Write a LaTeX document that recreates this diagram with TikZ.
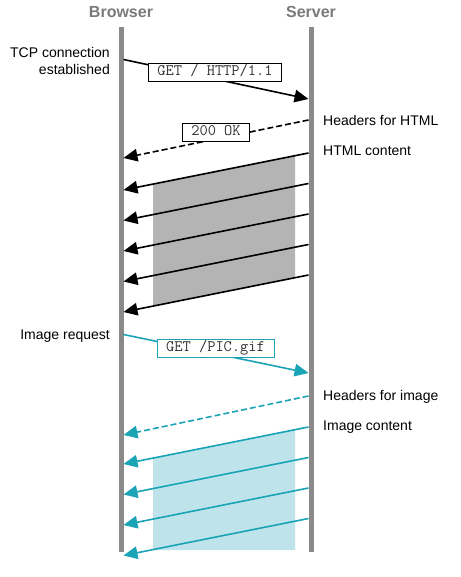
\documentclass[tikz,border=0pt]{standalone}
\usepackage{fontspec}
\setmainfont{Liberation Sans}
\usetikzlibrary{arrows.meta,calc}
\definecolor{lifegray}{HTML}{8A8A8A}
\definecolor{titlegray}{HTML}{7A7A7A}
\definecolor{teal}{HTML}{1BA3B6}
\definecolor{lightteal}{HTML}{BEE3EB}
\definecolor{fillgray}{HTML}{B4B4B4}
\definecolor{boxtext}{HTML}{333333}
\tikzset{
  lifeline/.style={draw=lifegray,line width=5pt},
  title/.style={font=\fontsize{16}{18}\selectfont\bfseries,text=titlegray,anchor=base},
  lbl/.style={font=\fontsize{14}{16.5}\selectfont,inner sep=0pt},
  msg/.style={line width=1.6pt,-{Triangle[length=14pt,width=12.5pt]}},
  box/.style={draw,fill=white,line width=0.8pt,text=boxtext,font=\fontsize{16}{16}\selectfont\ttfamily,
    inner xsep=9pt,inner ysep=2.5pt,text height=10pt,text depth=3pt},
}
\begin{document}
\begin{tikzpicture}[x=1pt,y=-1pt]
\useasboundingbox (0,0) rectangle (460,577);
\fill[white] (0,0) rectangle (460,577);
% lifelines
\coordinate (btop) at (121,27); \coordinate (bbot) at (121,552);
\coordinate (stop) at (311,27); \coordinate (sbot) at (311,552);
\node[title] (browser) at (121,18) {Browser};
\node[title] (server) at (311,18) {Server};
% arrow end points
\foreach \i/\y in {1/153,2/183.5,3/214,4/244.5,5/275}{
  \coordinate (hs\i) at (308.5,\y);
  \coordinate (hb\i) at (123.5,\y+37);
}
\foreach \i/\y in {1/427,2/457.5,3/488,4/518.5}{
  \coordinate (is\i) at (308.5,\y);
  \coordinate (ib\i) at (123.5,\y+37);
}
% shaded regions
\fill[fillgray] ($(hs1)!0.073!(hb1)$) -- ($(hs1)!0.8405!(hb1)$) -- ($(hs5)!0.8405!(hb5)$) -- ($(hs5)!0.073!(hb5)$) -- cycle;
\fill[lightteal] ($(is1)!0.073!(ib1)$) -- ($(is1)!0.8405!(ib1)$) -- (153,550) -- (295,550) -- cycle;
\draw[lifeline] (btop) -- (bbot);
\draw[lifeline] (stop) -- (sbot);
% request
\coordinate (reqb) at (123.5,59.5);
\coordinate (reqs) at (308.5,99);
\draw[msg] (reqb) -- (reqs);
\node[box] (get) at (215,72) {GET / HTTP/1.1};
% headers for HTML
\coordinate (hhs) at (308.5,120);
\coordinate (hhb) at (123.5,158);
\draw[msg,dashed,dash pattern=on 6pt off 3pt] (hhs) -- (hhb);
\node[box] (ok) at (216,132.5) {200 OK};
% content
\foreach \i in {1,...,5}{\draw[msg] (hs\i) -- (hb\i);}
% image request
\coordinate (imb) at (123.5,334.5);
\coordinate (ims) at (308.5,373);
\draw[msg,teal] (imb) -- (ims);
\node[box,draw=teal] (pic) at (215.5,348) {GET /PIC.gif};
\coordinate (ihs) at (308.5,396);
\coordinate (ihb) at (123.5,435);
\draw[msg,teal,dashed,dash pattern=on 6pt off 3pt] (ihs) -- (ihb);
\foreach \i in {1,...,4}{\draw[msg,teal] (is\i) -- (ib\i);}
% labels
\node[lbl,anchor=base east] (tcp1) at (110,58) {TCP connection};
\node[lbl,anchor=base east] (tcp2) at (110,74.5) {established};
\node[lbl,anchor=base east] (imreq) at (110,339) {Image request};
\node[lbl,anchor=base west] (hh) at (323,126) {Headers for HTML};
\node[lbl,anchor=base west] (hc) at (323,156) {HTML content};
\node[lbl,anchor=base west] (ih) at (323,400) {Headers for image};
\node[lbl,anchor=base west] (ic) at (323,430) {Image content};
\end{tikzpicture}
\end{document}
